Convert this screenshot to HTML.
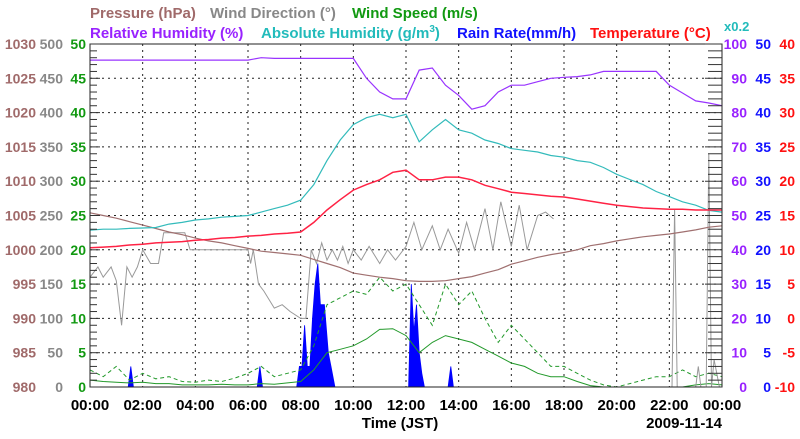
<!DOCTYPE html>
<html><head><meta charset="utf-8"><style>
body{margin:0;background:#fff;width:800px;height:434px;overflow:hidden;font-family:"Liberation Sans",sans-serif}
svg text{font-family:"Liberation Sans",sans-serif;font-weight:bold}
</style></head><body>
<svg id="c" width="800" height="434" xmlns="http://www.w3.org/2000/svg">
<g font-size="15">
<text x="90" y="18" fill="#a06a6a">Pressure (hPa)</text>
<text x="210" y="18" fill="#888">Wind Direction (°)</text>
<text x="352" y="18" fill="#119911">Wind Speed (m/s)</text>
</g>
<g font-size="15">
<text x="90" y="38" fill="#9922ff">Relative Humidity (%)</text>
<text x="261" y="38" fill="#22bbbb">Absolute Humidity (g/m<tspan dy="-6" font-size="10">3</tspan><tspan dy="6">)</tspan></text>
<text x="457" y="38" fill="#1111ff">Rain Rate(mm/h)</text>
<text x="590" y="38" fill="#ff1111">Temperature (°C)</text>
<text x="724" y="31" fill="#22bbbb" font-size="13">x0.2</text>
</g>
<g id="grid"></g><g id="series"></g><g id="axes"></g>
<text x="400" y="428" text-anchor="middle" font-size="15">Time (JST)</text>
<text x="722" y="428" text-anchor="end" font-size="15">2009-11-14</text>
</svg>
<script>
// half-hourly grid 0..24h (49 points)
const hours = [0,0.5,1,1.5,2,2.5,3,3.5,4,4.5,5,5.5,6,6.5,7,7.5,8,8.5,9,9.5,10,10.5,11,11.5,12,12.5,13,13.5,14,14.5,15,15.5,16,16.5,17,17.5,18,18.5,19,19.5,20,20.5,21,21.5,22,22.5,23,23.5,24];
const pressure = [1005.4,1005,1004.6,1004.1,1003.6,1003.1,1002.6,1002.2,1001.7,1001.3,1001,1000.6,1000.2,999.8,999.6,999.4,999.2,998.6,998,997.4,996.6,996.3,996,995.8,995.5,995.4,995.4,995.5,995.8,996.1,996.6,997.1,997.9,998.4,998.9,999.3,999.6,1000,1000.6,1000.9,1001.3,1001.6,1001.9,1002.1,1002.3,1002.6,1002.9,1003.3,1003.5];
const windAvg = [1,0.8,0.7,0.6,0.7,0.5,0.5,0.3,0.3,0.3,0.4,0.3,0.3,0.5,0.4,0.6,0.8,2.5,5,5.5,6,7,8.4,8.5,7.5,5,6.5,7.5,7,6.5,5.5,4.5,3.5,3,2,1.5,1.5,0.8,0.2,0,0,0,0,0,0,0,0.3,0.5,0.3];
const windGust = [2.5,1.5,3,1,2,1.2,1.5,0.8,0.7,1,0.8,1.3,2,3,1.5,2,2.5,6,12,13,14,13.5,16,14,15,12,9,15,12,14,10,6.5,9,7,5,3,3,2,1,0.3,0,0.5,1,1.5,1.5,2.5,1.5,2,1.5];
const relHum = [95.3,95.3,95.3,95.3,95.3,95.3,95.3,95.3,95.3,95.3,95.3,95.3,95.3,96,95.8,95.8,95.8,95.8,95.8,95.8,95.8,90,86,84,84,92.4,93,88,85,81,82,86,88,88,89,90,90.3,90.5,91,92,92,92,92,92,88,85.7,83.4,82.8,82];
const absHum = [9.15,9.2,9.2,9.25,9.27,9.3,9.5,9.6,9.74,9.8,9.9,9.95,10,10.2,10.4,10.6,10.9,11.8,13.2,14.4,15.3,15.7,15.9,15.7,15.9,14.3,15,15.6,15,14.8,14.4,14.2,13.9,13.8,13.7,13.5,13.4,13.2,13.1,12.8,12.4,12.1,11.8,11.4,11.1,10.8,10.6,10.3,10.2];
const temperature = [10.3,10.4,10.5,10.7,10.8,11,11.1,11.2,11.4,11.5,11.7,11.8,12,12.1,12.3,12.4,12.6,14,15.8,17.3,18.7,19.5,20.2,21.3,21.6,20.2,20.2,20.6,20.6,20.2,19.4,18.9,18.4,18.2,18,17.8,17.7,17.4,17.1,16.8,16.5,16.3,16.1,16,15.9,15.9,15.8,15.8,15.8];
const dirT = [0,0.3,0.5,0.8,1,1.2,1.4,1.6,1.8,2,2.3,2.6,2.8,3.2,3.6,3.8,4.5,5,5.5,6,6.1,6.2,6.4,6.6,7,7.3,7.6,8,8.2,8.4,8.6,8.8,9,9.2,9.4,9.6,9.8,10,10.3,10.6,11,11.3,11.6,12,12.3,12.6,13,13.3,13.6,14,14.3,14.6,15,15.3,15.6,16,16.3,16.6,17,17.3,17.6,null,22.1,22.2,22.3,null,23,23.1,23.2,23.4,23.5,23.6,23.7,23.9];
const dirV = [160,175,160,175,155,90,175,160,175,200,180,180,225,225,225,200,200,200,200,200,180,200,150,140,115,120,110,100,100,200,180,210,185,200,185,205,180,200,185,205,180,200,185,205,240,200,235,200,230,195,240,200,260,200,270,205,265,200,250,255,245,null,0,260,0,null,0,30,0,0,340,0,40,0];
const rainT = [1.45,1.55,1.65,6.35,6.45,6.55,7.85,7.95,8.05,8.15,8.25,8.35,8.45,8.55,8.65,8.75,8.9,9.05,9.15,9.3,9.45,12.1,12.2,12.3,12.4,12.5,12.6,12.7,13.6,13.7,13.8];
const rainV = [0,3,0,0,3,0,0,3,3,9,3,3,10,15,18,12,12,5,3,0,0,0,15,8,12,5,2,0,0,3,0];
const pTicks = [980,985,990,995,1000,1005,1010,1015,1020,1025,1030];
const dTicks = [0,50,100,150,200,250,300,350,400,450,500];
const wTicks = [0,5,10,15,20,25,30,35,40,45,50];
const hTicks = [0,10,20,30,40,50,60,70,80,90,100];
const rTicks = [0,5,10,15,20,25,30,35,40,45,50];
const tTicks = [-10,-5,0,5,10,15,20,25,30,35,40];
const xLabels = ["00:00","02:00","04:00","06:00","08:00","10:00","12:00","14:00","16:00","18:00","20:00","22:00","00:00"];

const L=90,R=722,T=44,B=387,NS="http://www.w3.org/2000/svg";
const xs=h=>L+(R-L)*h/24;
const lin=(a,b)=>v=>B-(B-T)*(v-a)/(b-a);
const yP=lin(980,1030),yD=lin(0,500),yW=lin(0,50),yH=lin(0,100),yA=lin(0,20),yT=lin(-10,40),yR=lin(0,50);
function mk(tag,attrs,parent){const e=document.createElementNS(NS,tag);for(const k in attrs)e.setAttribute(k,attrs[k]);parent.appendChild(e);return e;}
const grid=document.getElementById('grid'),ser=document.getElementById('series'),ax=document.getElementById('axes');
for(let i=1;i<12;i++){const l=mk('line',{x1:xs(i*2),x2:xs(i*2),y1:T,y2:B,stroke:'#222','stroke-dasharray':'2,4','stroke-width':1},grid);

}
for(let i=1;i<10;i++){const y=T+(B-T)*i/10;const l=mk('line',{x1:L,x2:R,y1:y,y2:y,stroke:'#222','stroke-dasharray':'2,4','stroke-width':1},grid);

}
function path(xsArr,ysArr,fy,color,name,dash,w){let d='',pen=false;
for(let i=0;i<xsArr.length;i++){if(xsArr[i]===null||ysArr[i]===null){pen=false;continue;}d+=(pen?'L':'M')+xs(xsArr[i]).toFixed(1)+','+fy(ysArr[i]).toFixed(1);pen=true;}
const p=mk('path',{d:d,fill:'none',stroke:color,'stroke-width':w||1.2},ser);if(dash)p.setAttribute('stroke-dasharray',dash);

}
let rd='M'+xs(rainT[0])+','+B;for(let i=0;i<rainT.length;i++)rd+='L'+xs(rainT[i]).toFixed(1)+','+yR(rainV[i]).toFixed(1);rd+='L'+xs(rainT[rainT.length-1])+','+B+'Z';
const rp=mk('path',{d:rd,fill:'#0000ff',stroke:'#0000ff','stroke-width':0.8},ser);


path(hours,windGust,yW,'#22992a','wind-gust-line','4,3',1);
path(hours,windAvg,yW,'#22992a','wind-speed-line',null,1);
path(dirT,dirV,yD,'#999','wind-direction-line',null,1);
path(hours,pressure,yP,'#a07070','pressure-line',null,1.2);
path(hours,absHum.map(v=>v*5),yH,'#33bbbb','absolute-humidity-line',null,1.2);
path(hours,temperature,yT,'#ff2244','temperature-line',null,1.5);
path(hours,relHum,yH,'#9933ff','relative-humidity-line',null,1.2);
const bl=mk('line',{x1:L,x2:R,y1:B,y2:B,stroke:'#4444cc','stroke-width':1},ax);


const fr=mk('rect',{x:L,y:T,width:R-L,height:B-T,fill:'none',stroke:'#222','stroke-width':1},ax);


for(let i=0;i<=50;i++){const y=T+(B-T)*i/50,len=i%5?7:10;
const a=mk('line',{x1:L,x2:L+len,y1:y,y2:y,stroke:'#333'},ax);


const b=mk('line',{x1:R-len-7,x2:R,y1:y,y2:y,stroke:'#333'},ax);

}
function labels(arr,fy,x,anchor,color,name){arr.forEach((v,i)=>{const t=mk('text',{x:x,y:(fy(v)+5).toFixed(1),'text-anchor':anchor,fill:color,'font-size':14},ax);t.textContent=v;

});}
labels(pTicks,yP,36,'end','#a06a6a','pressure-tick-label');
labels(dTicks,yD,63,'end','#888','direction-tick-label');
labels(wTicks,yW,86,'end','#119911','wind-speed-tick-label');
labels(hTicks,yH,747,'end','#9922ff','humidity-tick-label');
labels(rTicks,yR,771,'end','#1111ff','rain-tick-label');
labels(tTicks,yT,795,'end','#ff1111','temperature-tick-label');
xLabels.forEach((s,i)=>{const t=mk('text',{x:xs(i*2),y:410,'text-anchor':'middle','font-size':15,fill:'#000'},ax);t.textContent=s;

});
</script>
</body></html>
